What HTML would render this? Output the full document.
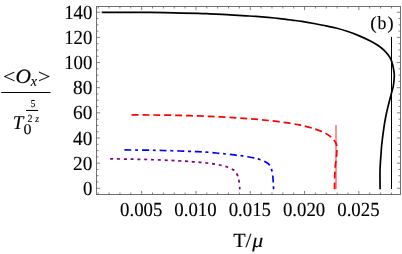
<!DOCTYPE html>
<html><head><meta charset="utf-8"><style>
html,body{margin:0;padding:0;background:#fff;}
svg{display:block;will-change:transform;}
text{font-family:"Liberation Serif",serif;fill:#000;text-rendering:geometricPrecision;stroke:#000;stroke-width:0.12px;}
</style></head><body>
<svg width="402" height="254" viewBox="0 0 402 254">
<rect width="402" height="254" fill="#fff"/>
<rect x="96.5" y="6.5" width="304.0" height="188.0" fill="none" stroke="#707070" stroke-width="1"/>
<path d="M98.21 194.5 v-2.0 M98.21 6.5 v2.0 M109.07 194.5 v-2.0 M109.07 6.5 v2.0 M119.93 194.5 v-2.0 M119.93 6.5 v2.0 M130.79 194.5 v-2.0 M130.79 6.5 v2.0 M141.65 194.5 v-3.6 M141.65 6.5 v3.6 M152.51 194.5 v-2.0 M152.51 6.5 v2.0 M163.37 194.5 v-2.0 M163.37 6.5 v2.0 M174.23 194.5 v-2.0 M174.23 6.5 v2.0 M185.09 194.5 v-2.0 M185.09 6.5 v2.0 M195.95 194.5 v-3.6 M195.95 6.5 v3.6 M206.81 194.5 v-2.0 M206.81 6.5 v2.0 M217.67 194.5 v-2.0 M217.67 6.5 v2.0 M228.53 194.5 v-2.0 M228.53 6.5 v2.0 M239.39 194.5 v-2.0 M239.39 6.5 v2.0 M250.25 194.5 v-3.6 M250.25 6.5 v3.6 M261.11 194.5 v-2.0 M261.11 6.5 v2.0 M271.97 194.5 v-2.0 M271.97 6.5 v2.0 M282.83 194.5 v-2.0 M282.83 6.5 v2.0 M293.69 194.5 v-2.0 M293.69 6.5 v2.0 M304.55 194.5 v-3.6 M304.55 6.5 v3.6 M315.41 194.5 v-2.0 M315.41 6.5 v2.0 M326.27 194.5 v-2.0 M326.27 6.5 v2.0 M337.13 194.5 v-2.0 M337.13 6.5 v2.0 M347.99 194.5 v-2.0 M347.99 6.5 v2.0 M358.85 194.5 v-3.6 M358.85 6.5 v3.6 M369.71 194.5 v-2.0 M369.71 6.5 v2.0 M380.57 194.5 v-2.0 M380.57 6.5 v2.0 M391.43 194.5 v-2.0 M391.43 6.5 v2.0 M96.5 188.30 h3.6 M400.5 188.30 h-3.6 M96.5 182.01 h2.0 M400.5 182.01 h-2.0 M96.5 175.73 h2.0 M400.5 175.73 h-2.0 M96.5 169.44 h2.0 M400.5 169.44 h-2.0 M96.5 163.15 h3.6 M400.5 163.15 h-3.6 M96.5 156.86 h2.0 M400.5 156.86 h-2.0 M96.5 150.58 h2.0 M400.5 150.58 h-2.0 M96.5 144.29 h2.0 M400.5 144.29 h-2.0 M96.5 138.00 h3.6 M400.5 138.00 h-3.6 M96.5 131.71 h2.0 M400.5 131.71 h-2.0 M96.5 125.43 h2.0 M400.5 125.43 h-2.0 M96.5 119.14 h2.0 M400.5 119.14 h-2.0 M96.5 112.85 h3.6 M400.5 112.85 h-3.6 M96.5 106.56 h2.0 M400.5 106.56 h-2.0 M96.5 100.28 h2.0 M400.5 100.28 h-2.0 M96.5 93.99 h2.0 M400.5 93.99 h-2.0 M96.5 87.70 h3.6 M400.5 87.70 h-3.6 M96.5 81.41 h2.0 M400.5 81.41 h-2.0 M96.5 75.12 h2.0 M400.5 75.12 h-2.0 M96.5 68.84 h2.0 M400.5 68.84 h-2.0 M96.5 62.55 h3.6 M400.5 62.55 h-3.6 M96.5 56.26 h2.0 M400.5 56.26 h-2.0 M96.5 49.97 h2.0 M400.5 49.97 h-2.0 M96.5 43.69 h2.0 M400.5 43.69 h-2.0 M96.5 37.40 h3.6 M400.5 37.40 h-3.6 M96.5 31.11 h2.0 M400.5 31.11 h-2.0 M96.5 24.83 h2.0 M400.5 24.83 h-2.0 M96.5 18.54 h2.0 M400.5 18.54 h-2.0 M96.5 12.25 h3.6 M400.5 12.25 h-3.6" stroke="#5a5a5a" stroke-width="0.75" fill="none"/>
<path d="M110.20 158.90 C113.50 158.94 123.37 159.03 130.00 159.15 C136.63 159.27 143.33 159.39 150.00 159.60 C156.67 159.81 164.17 160.13 170.00 160.40 C175.83 160.67 181.17 160.97 185.00 161.20 C188.83 161.43 190.50 161.62 193.00 161.80 C195.50 161.98 197.70 162.10 200.00 162.30 C202.30 162.50 204.57 162.73 206.80 163.00 C209.03 163.27 211.18 163.57 213.40 163.90 C215.62 164.23 217.88 164.52 220.10 165.00 C222.32 165.48 224.60 166.05 226.70 166.80 C228.80 167.55 231.27 168.70 232.70 169.50 C234.13 170.30 234.57 170.77 235.30 171.60 C236.03 172.43 236.60 173.50 237.10 174.50 C237.60 175.50 237.98 176.53 238.30 177.60 C238.62 178.67 238.77 179.22 239.00 180.90 C239.23 182.58 239.57 186.28 239.70 187.70 C239.83 189.12 239.78 189.12 239.80 189.40" fill="none" stroke="#800080" stroke-width="1.7" stroke-dasharray="3.0 3.8"/>
<path d="M124.40 149.90 C128.67 149.95 143.57 150.10 150.00 150.20 C156.43 150.30 158.00 150.37 163.00 150.50 C168.00 150.63 174.73 150.82 180.00 151.00 C185.27 151.18 190.98 151.45 194.60 151.60 C198.22 151.75 198.82 151.75 201.70 151.90 C204.58 152.05 209.02 152.27 211.90 152.50 C214.78 152.73 216.63 153.05 219.00 153.30 C221.37 153.55 224.30 153.82 226.10 154.00 C227.90 154.18 227.98 154.18 229.80 154.40 C231.62 154.62 234.67 155.03 237.00 155.30 C239.33 155.57 242.08 155.78 243.80 156.00 C245.52 156.22 245.62 156.28 247.30 156.60 C248.98 156.92 252.17 157.52 253.90 157.90 C255.63 158.28 256.55 158.55 257.70 158.90 C258.85 159.25 259.73 159.60 260.80 160.00 C261.87 160.40 263.02 160.80 264.10 161.30 C265.18 161.80 266.37 162.35 267.30 163.00 C268.23 163.65 269.03 164.25 269.70 165.20 C270.37 166.15 270.88 167.60 271.30 168.70 C271.72 169.80 271.97 170.70 272.20 171.80 C272.43 172.90 272.52 173.52 272.70 175.30 C272.88 177.08 273.15 180.07 273.30 182.50 C273.45 184.93 273.55 188.67 273.60 189.90" fill="none" stroke="#0000ff" stroke-width="1.7" stroke-dasharray="7.05 3.7 2.85 4.0"/>
<path d="M336 125.1 V189" stroke="#ff0000" stroke-width="0.85" fill="none"/>
<path d="M131.60 114.90 C134.67 114.92 143.60 114.95 150.00 115.00 C156.40 115.05 163.33 115.08 170.00 115.20 C176.67 115.32 183.37 115.50 190.00 115.70 C196.63 115.90 203.13 116.12 209.80 116.40 C216.47 116.68 223.30 117.00 230.00 117.40 C236.70 117.80 243.35 118.27 250.00 118.80 C256.65 119.33 263.27 119.87 269.90 120.60 C276.53 121.33 284.65 122.43 289.80 123.20 C294.95 123.97 298.37 124.72 300.80 125.20 C303.23 125.68 302.72 125.67 304.40 126.10 C306.08 126.53 309.15 127.32 310.90 127.80 C312.65 128.28 313.15 128.40 314.90 129.00 C316.65 129.60 319.72 130.75 321.40 131.40 C323.08 132.05 323.37 131.95 325.00 132.90 C326.63 133.85 329.77 135.98 331.20 137.10 C332.63 138.22 332.87 138.70 333.60 139.60 C334.33 140.50 335.08 141.50 335.60 142.50 C336.12 143.50 336.48 144.35 336.70 145.60 C336.92 146.85 336.95 148.10 336.90 150.00 C336.85 151.90 336.57 155.08 336.40 157.00 C336.23 158.92 336.07 160.17 335.90 161.50 C335.73 162.83 335.55 163.58 335.40 165.00 C335.25 166.42 335.12 167.83 335.00 170.00 C334.88 172.17 334.78 174.80 334.70 178.00 C334.62 181.20 334.53 187.33 334.50 189.20" fill="none" stroke="#ff0000" stroke-width="1.7" stroke-dasharray="7.0 3.87"/>
<path d="M391.5 36.9 V189" stroke="#000" stroke-width="1" fill="none"/>
<path d="M101.70 12.40 C105.58 12.40 116.95 12.39 125.00 12.40 C133.05 12.41 141.85 12.37 150.00 12.45 C158.15 12.53 165.90 12.76 173.90 12.90 C181.90 13.04 192.00 13.15 198.00 13.30 C204.00 13.45 205.92 13.62 209.90 13.80 C213.88 13.98 217.92 14.18 221.90 14.40 C225.88 14.62 229.78 14.87 233.80 15.10 C237.82 15.33 242.32 15.58 246.00 15.80 C249.68 16.02 252.25 16.13 255.90 16.40 C259.55 16.67 263.92 17.03 267.90 17.40 C271.88 17.77 275.78 18.15 279.80 18.60 C283.82 19.05 288.32 19.63 292.00 20.10 C295.68 20.57 298.25 20.83 301.90 21.40 C305.55 21.97 309.92 22.75 313.90 23.50 C317.88 24.25 322.12 25.15 325.80 25.90 C329.48 26.65 332.32 27.06 336.00 28.00 C339.68 28.94 343.92 30.20 347.90 31.55 C351.88 32.90 355.92 34.41 359.90 36.10 C363.88 37.79 368.82 40.17 371.80 41.70 C374.78 43.23 375.78 43.90 377.80 45.30 C379.82 46.70 382.10 48.40 383.90 50.10 C385.70 51.80 387.42 53.90 388.60 55.50 C389.78 57.10 390.36 58.30 391.00 59.70 C391.64 61.10 392.03 62.38 392.45 63.90 C392.87 65.42 393.19 67.00 393.50 68.80 C393.81 70.60 394.22 72.72 394.30 74.70 C394.38 76.68 394.18 78.70 394.00 80.70 C393.82 82.70 393.55 84.90 393.20 86.70 C392.85 88.50 392.47 89.36 391.90 91.50 C391.33 93.64 390.55 96.62 389.80 99.55 C389.05 102.48 388.10 106.11 387.40 109.10 C386.70 112.09 386.13 114.76 385.60 117.50 C385.07 120.24 384.65 122.62 384.20 125.55 C383.75 128.48 383.32 131.86 382.90 135.10 C382.48 138.34 381.98 142.26 381.70 145.00 C381.42 147.74 381.40 148.87 381.20 151.55 C381.00 154.23 380.70 157.82 380.50 161.10 C380.30 164.38 380.07 166.55 380.00 171.25 C379.93 175.95 380.08 186.29 380.10 189.30" fill="none" stroke="#000" stroke-width="1.7"/>
<text transform="translate(92.4 194.85) scale(0.94 1)" text-anchor="end" font-size="20">0</text>
<text transform="translate(92.4 169.70) scale(0.965 1)" text-anchor="end" font-size="20">20</text>
<text transform="translate(92.4 144.55) scale(0.965 1)" text-anchor="end" font-size="20">40</text>
<text transform="translate(92.4 119.40) scale(0.965 1)" text-anchor="end" font-size="20">60</text>
<text transform="translate(92.4 94.25) scale(0.965 1)" text-anchor="end" font-size="20">80</text>
<text transform="translate(92.4 69.10) scale(0.94 1)" text-anchor="end" font-size="20">100</text>
<text transform="translate(92.4 43.95) scale(0.94 1)" text-anchor="end" font-size="20">120</text>
<text transform="translate(92.4 18.80) scale(0.94 1)" text-anchor="end" font-size="20">140</text>
<text transform="translate(141.20 215.55) scale(0.94 1)" text-anchor="middle" font-size="20">0.005</text>
<text transform="translate(195.50 215.55) scale(0.94 1)" text-anchor="middle" font-size="20">0.010</text>
<text transform="translate(249.80 215.55) scale(0.94 1)" text-anchor="middle" font-size="20">0.015</text>
<text transform="translate(304.10 215.55) scale(0.94 1)" text-anchor="middle" font-size="20">0.020</text>
<text transform="translate(358.40 215.55) scale(0.94 1)" text-anchor="middle" font-size="20">0.025</text>
<text transform="translate(2.91 83.07) scale(1.0960 0.9743)" font-size="20">&lt;</text>
<text transform="translate(15.62 83.00) scale(1.0718 1.0121)" font-size="20" font-style="italic">O</text>
<text transform="translate(30.87 85.50) scale(0.7020 0.7517)" font-size="20" font-style="italic">x</text>
<text transform="translate(38.08 83.39) scale(1.1067 0.9846)" font-size="20">&gt;</text>
<path d="M1.3 92.5 H50.5" stroke="#000" stroke-width="1"/>
<text transform="translate(12.85 128.80) scale(0.9549 0.9774)" font-size="20" font-style="italic">T</text>
<text transform="translate(23.59 133.76) scale(0.8022 0.7335)" font-size="20">0</text>
<text transform="translate(30.67 107.10) scale(0.9185 1.0533)" font-size="10">5</text>
<path d="M26 110.45 H38.1" stroke="#000" stroke-width="1.05"/>
<text transform="translate(27.56 121.80) scale(0.9978 1.0874)" font-size="10">2</text>
<text transform="translate(35.31 122.00) scale(0.9556 1.0240)" font-size="10" font-style="italic">z</text>
<text transform="translate(370.15 28.74) scale(0.9637 0.9181)" font-size="20">(</text>
<text transform="translate(377.45 29.37) scale(0.8876 0.9309)" font-size="20">b</text>
<text transform="translate(387.46 28.74) scale(0.9150 0.9181)" font-size="20">)</text>
<text transform="translate(233.13 246.90) scale(1.0153 1.0003)" font-size="20">T</text>
<text transform="translate(245.60 246.91) scale(1.0618 0.9941)" font-size="20">/</text>
<text transform="translate(252.32 246.88) scale(1.0964 1.0106)" font-size="20" font-style="italic">μ</text>
</svg>
</body></html>
